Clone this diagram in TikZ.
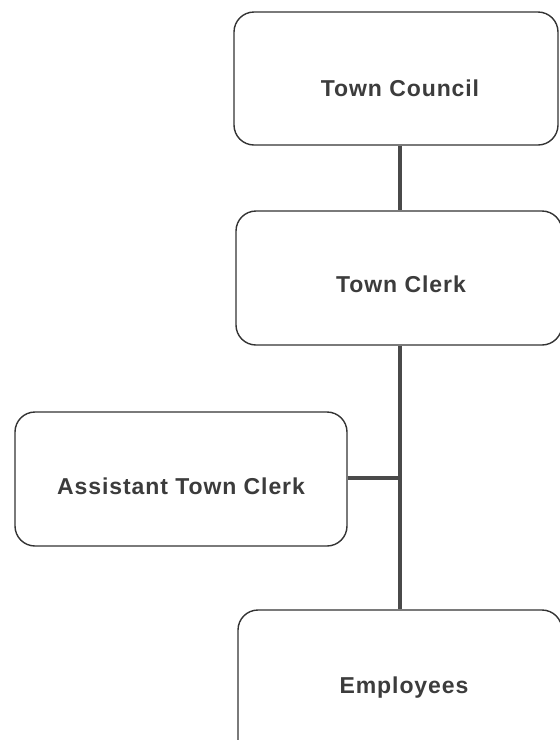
\documentclass[tikz,border=0pt]{standalone}
\usepackage{fontspec}
\setmainfont{Liberation Sans}
\newfontfamily\boxfont[LetterSpace=4]{Liberation Sans}
\definecolor{txt}{HTML}{3C3C3C}
\definecolor{edge}{HTML}{333333}
\definecolor{conn}{HTML}{4A4A4A}
\begin{document}
\begin{tikzpicture}[x=1pt,y=-1pt,
  orgbox/.style={draw=edge,line width=1.4pt,rounded corners=20pt,fill=white,inner sep=0pt},
  lbl/.style={font=\boxfont\bfseries\fontsize{23}{26}\selectfont,text=txt,inner sep=0pt},
  link/.style={draw=conn,line width=4pt}]
\useasboundingbox (0,0) rectangle (560,740);
\node[orgbox,minimum width=324pt,minimum height=133pt] (council) at (396,78.5) {};
\node[orgbox,minimum width=326pt,minimum height=134pt] (clerk) at (399,278) {};
\node[orgbox,minimum width=332pt,minimum height=134pt] (asst) at (181,479) {};
\node[orgbox,minimum width=324pt,minimum height=150pt] (emp) at (400,685) {};
\node[lbl] (tc) at (400,88) {Town Council};
\node[lbl] (tk) at (401,284) {Town Clerk};
\node[lbl] (ta) at (181,486) {Assistant Town Clerk};
\node[lbl] (te) at (404,688) {Employees};
\coordinate (j) at (400,478);
\draw[link] (council.south -| j) -- (clerk.north -| j);
\draw[link] (clerk.south -| j) -- (emp.north -| j);
\draw[link] (asst.east |- j) -- (j);
\end{tikzpicture}
\end{document}
